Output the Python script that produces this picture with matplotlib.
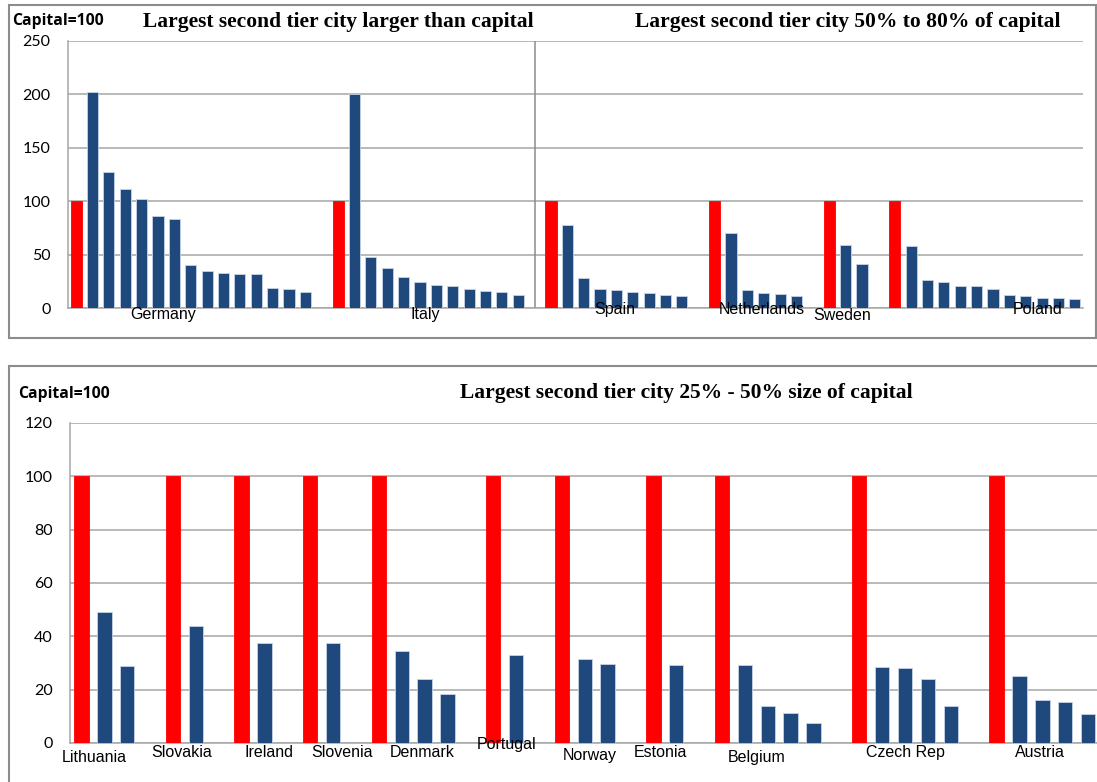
import matplotlib.pyplot as plt
from matplotlib.patches import Rectangle

RED = "#ff0000"
BLUE = "#1f497d"
GRID = "#a6a6a6"

# top panel: capital first (=100), then second tier cities
top_names = ["Germany", "Italy", "Spain", "Netherlands", "Sweden", "Poland"]
germany = [100, 202, 127, 111, 102, 86, 83, 40, 35, 33, 32, 32, 19, 17.5, 15]
italy = [100, 200, 48, 37, 29, 24, 22, 21, 18, 16, 15, 12.5]
spain = [100, 78, 28, 18, 17, 15, 14, 12, 11.5]
netherlands = [100, 70, 17, 14, 13, 11.5]
sweden = [100, 59, 41]
poland = [100, 58, 26, 24, 21, 20.5, 18, 12.5, 11.5, 9.5, 9, 8]
top_groups = [germany, italy, spain, netherlands, sweden, poland]
top_yticks = [0, 50, 100, 150, 200, 250]

# bottom panel
bottom_names = ["Lithuania", "Slovakia", "Ireland", "Slovenia", "Denmark", "Portugal",
                "Norway", "Estonia", "Belgium", "Czech Rep", "Austria"]
lithuania = [100, 49, 29]
slovakia = [100, 44]
ireland = [100, 37.5]
slovenia = [100, 37.5]
denmark = [100, 34.5, 24, 18.5]
portugal = [100, 33]
norway = [100, 31.5, 29.5]
estonia = [100, 29.3]
belgium = [100, 29.2, 14, 11.3, 7.4]
czech = [100, 28.5, 28.2, 24, 13.8]
austria = [100, 25.2, 16, 15.4, 11]
bottom_groups = [lithuania, slovakia, ireland, slovenia, denmark, portugal,
                 norway, estonia, belgium, czech, austria]
bottom_yticks = [0, 20, 40, 60, 80, 100, 120]

# where each country label sits (slot offset from group start, px below axis)
top_lab_off = [5.3, 5.3, 3.9, 2.9, 0.8, 8.7]
top_lab_dy = [7, 7, 1.5, 1.5, 7, 1.5]
bot_lab_off = [0.57, 0.37, 1.2, 1.4, 1.9, 0.6, 1.2, 0.3, 1.5, 2.0, 1.9]
bot_lab_dy = [14, 9.5, 9.5, 9.5, 9.5, 2, 12.5, 9.5, 14.5, 9.5, 9.5]

W, H = 1097, 782
LAB_FONT = ["Liberation Sans Narrow", "Liberation Sans"]
TITLE_KW = dict(fontsize=15.5, fontweight="bold", family="Liberation Serif",
                ha="center", va="center")
CAP_KW = dict(fontsize=11.3, fontweight="bold", family=["Open Sans", "Lato"],
              ha="left", va="center")


def layout(groups):
    xs, vals, cols, starts = [], [], [], []
    pos = 0
    for g in groups:
        starts.append(pos)
        for i, v in enumerate(g):
            xs.append(pos + i)
            vals.append(v)
            cols.append(RED if i == 0 else BLUE)
        pos += len(g) + 1
    return xs, vals, cols, starts, pos - 1


def style_axes(ax, yticks):
    ax.set_ylim(yticks[0], yticks[-1])
    ax.set_yticks(yticks)
    ax.set_xticks([])
    ax.yaxis.grid(True, color=GRID, linewidth=1.1)
    ax.set_axisbelow(True)
    for s in ["top", "right"]:
        ax.spines[s].set_visible(False)
    for s in ["left", "bottom"]:
        ax.spines[s].set_color(GRID)
        ax.spines[s].set_linewidth(1.1)
    ax.tick_params(axis="y", length=0, pad=12.5, labelsize=11.5)
    for t in ax.get_yticklabels():
        t.set_fontfamily("Lato")


def draw(ax, groups, names, offs, dys, width):
    xs, vals, cols, starts, n = layout(groups)
    for x, v, c in zip(xs, vals, cols):
        ec = c if c == RED else "#c5d3e6"
        ax.bar(x, v, width=width, color=c, edgecolor=ec, linewidth=0.6, zorder=3)
    ax.set_xlim(-0.5, n - 0.5)
    for name, s, o, dy in zip(names, starts, offs, dys):
        ax.annotate(name, (s + o, 0), xytext=(0, -dy * 0.72), textcoords="offset points",
                    ha="center", va="center", fontsize=11.5, family=LAB_FONT,
                    annotation_clip=False)
    return starts


fig = plt.figure(figsize=(W / 100, H / 100), dpi=100)


def fx(px):
    return px / W


def fy(py):
    return 1 - py / H


# frames
fig.add_artist(Rectangle((fx(9), fy(338)), fx(1087), 333 / H, transform=fig.transFigure,
                         fill=False, edgecolor="#8c8c8c", linewidth=1.5))
fig.add_artist(Rectangle((fx(9), fy(800)), fx(1095), 434 / H, transform=fig.transFigure,
                         fill=False, edgecolor="#8c8c8c", linewidth=1.5))

# top chart
ax1 = fig.add_axes([fx(68), fy(308), fx(1015), 267 / H])
style_axes(ax1, top_yticks)
starts = draw(ax1, top_groups, top_names, top_lab_off, top_lab_dy, 0.68)
ax1.axvline(starts[2] - 1, color="#8c8c8c", linewidth=1.1, zorder=2)

fig.text(fx(12), fy(21), "Capital=100", **CAP_KW)
fig.text(fx(338), fy(22), "Largest second tier city larger than capital", **TITLE_KW)
fig.text(fx(848), fy(22), "Largest second tier city 50% to 80% of capital", **TITLE_KW)

# bottom chart
ax2 = fig.add_axes([fx(70), fy(743), fx(1029.5), 320 / H])
style_axes(ax2, bottom_yticks)
draw(ax2, bottom_groups, bottom_names, bot_lab_off, bot_lab_dy, 0.63)

fig.text(fx(18), fy(394), "Capital=100", **CAP_KW)
fig.text(fx(686), fy(393), "Largest second tier city 25% - 50% size of capital", **TITLE_KW)

fig.savefig("out.png", dpi=100)
